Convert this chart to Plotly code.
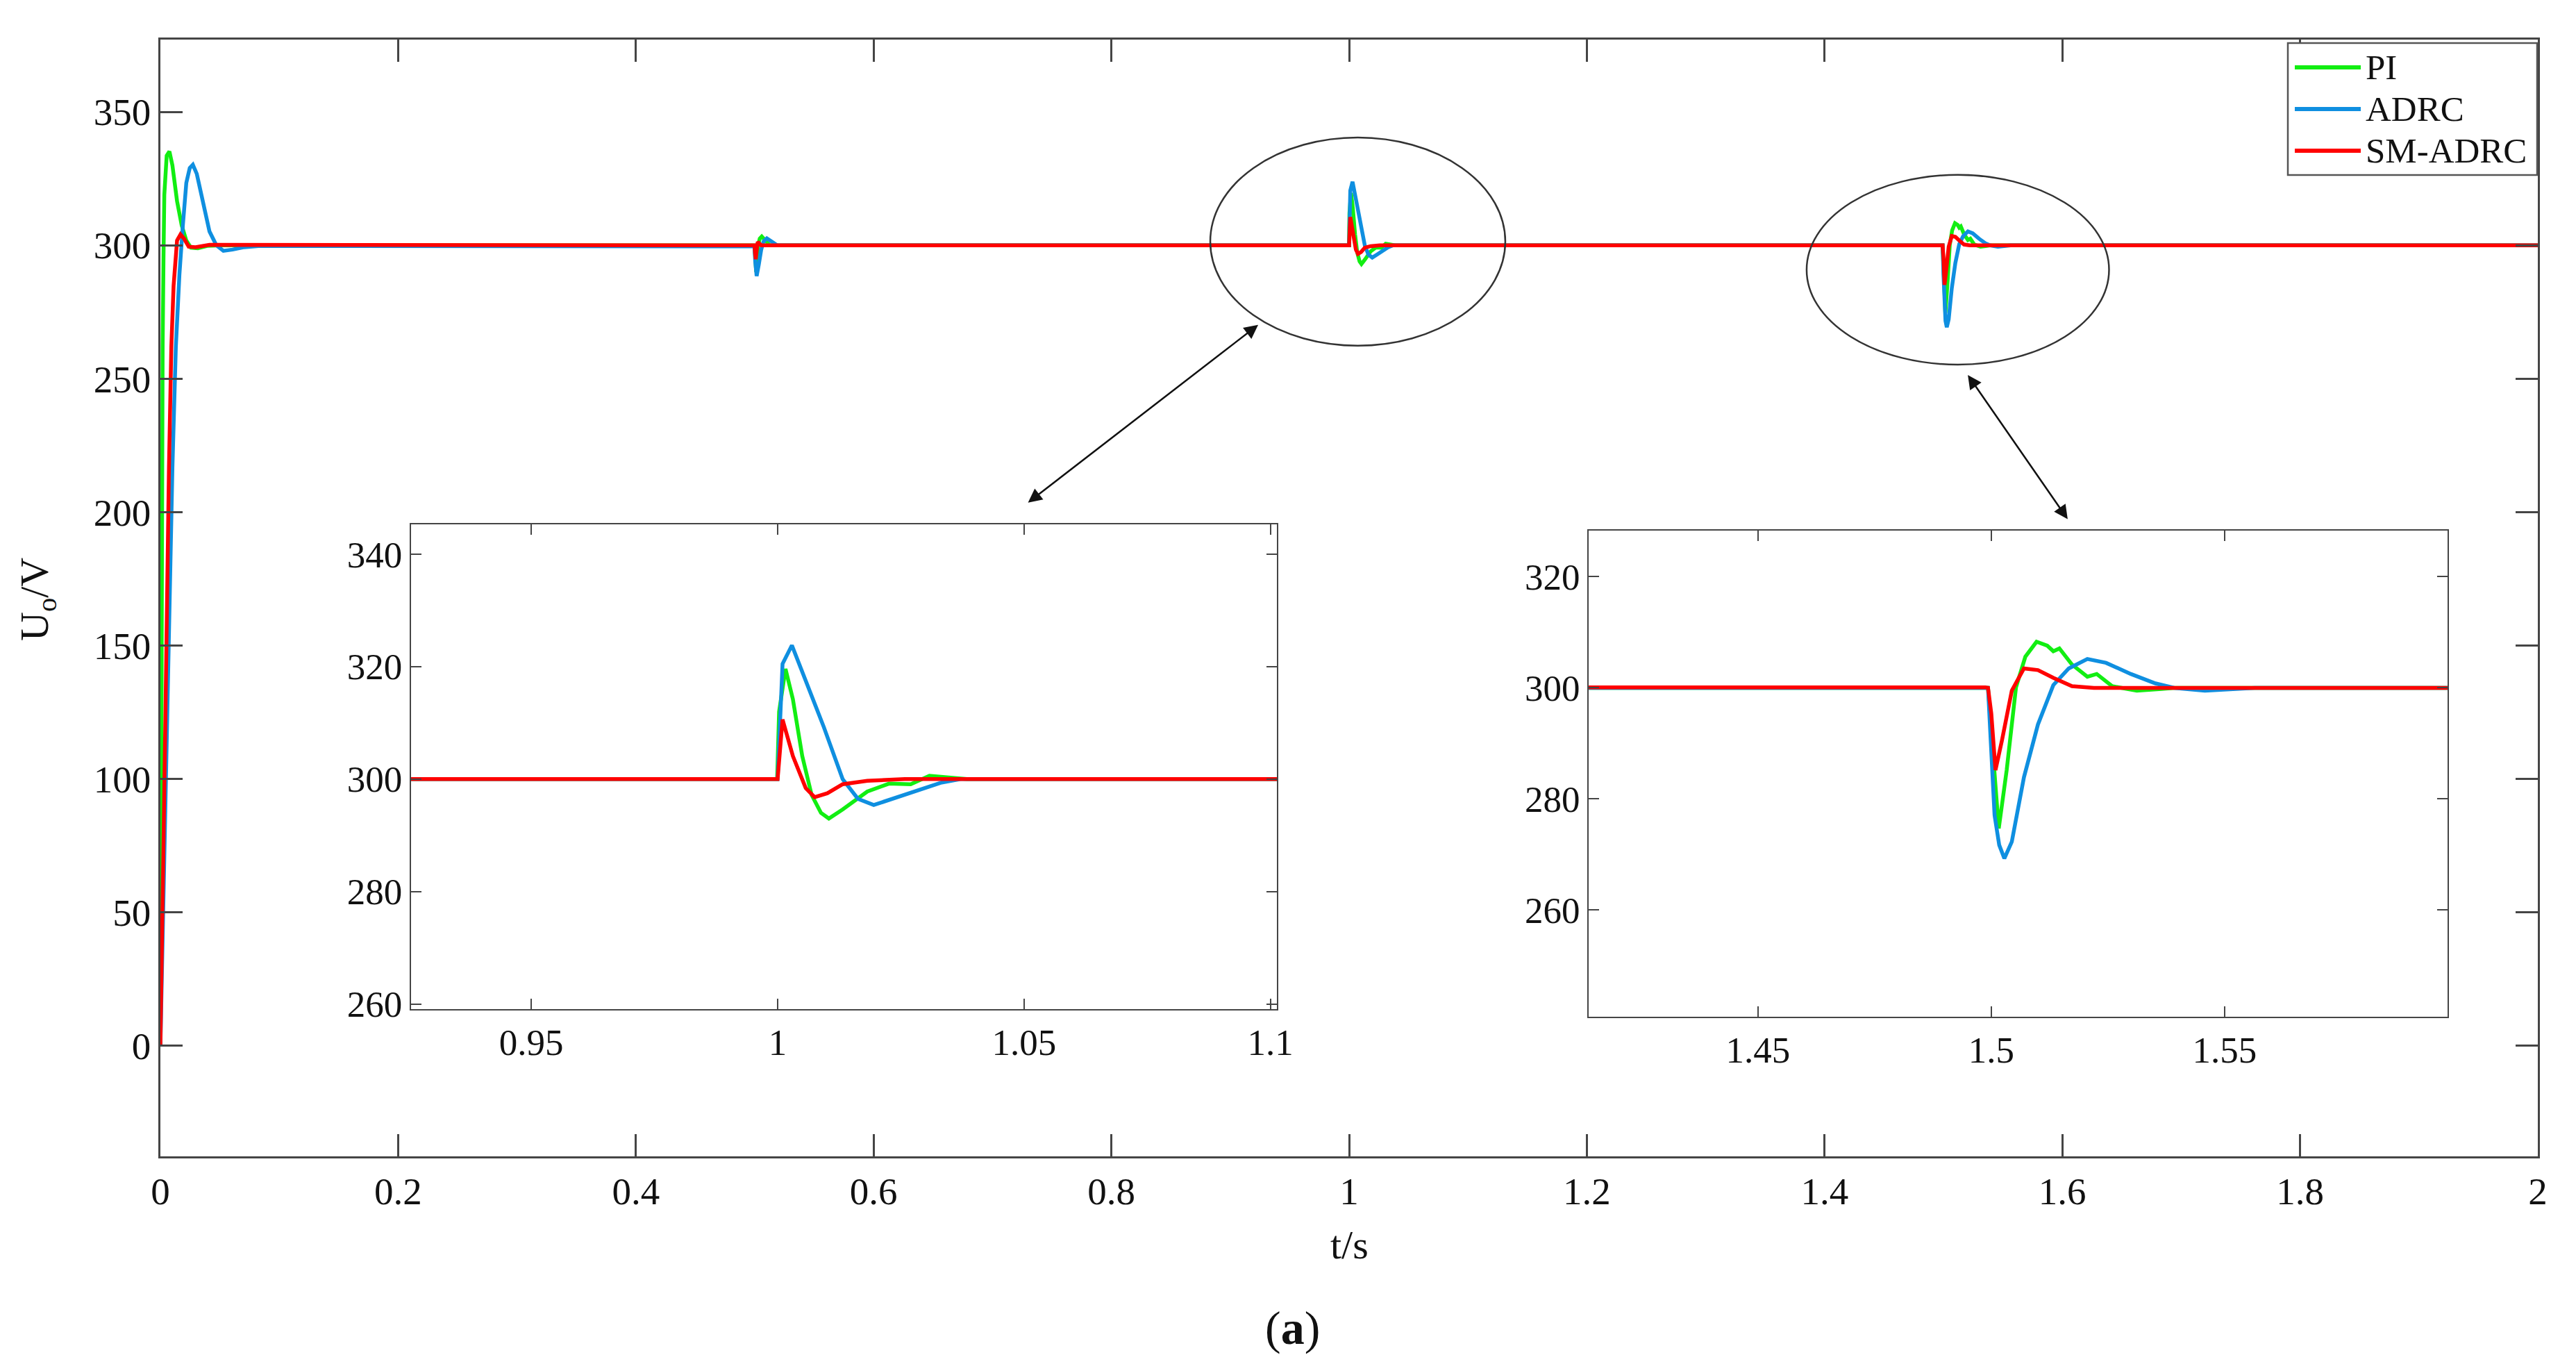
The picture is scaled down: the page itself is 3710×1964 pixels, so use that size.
import plotly.graph_objects as go

# ---------------- data ----------------
series_names = ["PI", "ADRC", "SM-ADRC"]
series_colors = ["#12EE12", "#0F8FE0", "#FF0000"]

pi_t = [0, 0.0004, 0.0008, 0.0013, 0.0019, 0.0026, 0.0033, 0.0053, 0.0076, 0.0101,
        0.014, 0.0179, 0.0218, 0.0257, 0.0315, 0.0393, 0.05,
        0.4998, 0.5004, 0.5012, 0.502, 0.5029, 0.5042, 0.5059, 0.509, 0.5127,
        0.9999, 1.0003, 1.0016, 1.0031, 1.005, 1.0069, 1.0088, 1.0104, 1.0132, 1.0182,
        1.0226, 1.027, 1.0308, 1.0352, 1.0384,
        1.4993, 1.5004, 1.5016, 1.5033, 1.5053, 1.5073, 1.5097, 1.512, 1.5133, 1.5146,
        1.5173, 1.5206, 1.5226, 1.5259, 1.5312, 1.5365, 1.5392, 2.0]
pi_v = [0, 60, 148, 205, 262, 295, 319, 333.6, 335.2, 330,
        316.6, 307.5, 301.8, 299.1, 298.9, 299.8, 300,
        300, 295, 290, 294.5, 300, 302.5, 303.3, 301.8, 300,
        300, 312, 319.6, 314.2, 304.1, 297.2, 294.0, 293.0, 294.6, 297.8,
        299.2, 299.1, 300.6, 300.3, 300,
        300, 287.9, 274.7, 285.2, 300.1, 305.6, 308.3, 307.6, 306.6, 307.1,
        304.2, 302.0, 302.5, 300.3, 299.5, 299.8, 300, 300]

adrc_t = [0, 0.001, 0.0033, 0.0062, 0.0101, 0.013, 0.016, 0.0189, 0.0218, 0.0247,
          0.0273, 0.0306, 0.0354, 0.0413, 0.0471, 0.053, 0.0607, 0.0705, 0.0841,
          0.4998, 0.5004, 0.5016, 0.5035, 0.5054, 0.5075, 0.5102, 0.514, 0.5189,
          1.0, 1.001, 1.0029, 1.0057, 1.0094, 1.0132, 1.0163, 1.0195, 1.0233, 1.0283,
          1.0333, 1.0371,
          1.4993, 1.5, 1.5007, 1.5017, 1.5028, 1.5044, 1.507, 1.51, 1.5133, 1.5166,
          1.5206, 1.5246, 1.5299, 1.5352, 1.5392, 1.5458, 1.5525, 1.5565, 2.0]
adrc_v = [0, 22, 57.5, 125.7, 216.6, 262, 289, 307.5, 323.4, 329,
          330.2, 326.8, 316.6, 305.2, 300, 297.95, 298.4, 299.3, 299.8,
          299.6, 294, 288.5, 293, 298.3, 301.5, 302.6, 301.5, 300,
          300, 320.5, 323.8, 317.4, 309.2, 300, 296.5, 295.4, 296.5, 298.1,
          299.4, 300,
          300, 289.3, 277.1, 271.7, 269.3, 272.3, 283.9, 293.4, 300.5, 303.5,
          305.2, 304.5, 302.5, 300.8, 300, 299.5, 299.8, 300, 300]

sm_t = [0, 0.0023, 0.0043, 0.0072, 0.0092, 0.0111, 0.014, 0.0169, 0.0199, 0.0238,
        0.0296, 0.0413,
        0.4998, 0.5003, 0.5008, 0.5016, 0.5025, 0.5054,
        1.0, 1.001, 1.0031, 1.0057, 1.0075, 1.0101, 1.0132, 1.0182, 1.0258,
        1.4987, 1.4993, 1.5, 1.5009, 1.5023, 1.5044, 1.507, 1.51, 1.5133, 1.5173,
        1.522, 2.0]
sm_v = [0, 57.5, 125.7, 216.6, 262, 284.8, 301.8, 304.1, 302.5, 299.5,
        299.3, 300.2,
        300, 297, 294.8, 298, 301.3, 300,
        300, 310.6, 304.1, 298.4, 296.8, 297.5, 299.1, 299.7, 300,
        300.1, 300, 295.4, 285.2, 290.6, 299.5, 303.5, 303.2, 301.8, 300.3,
        300, 300]

main_xticks = [0, 0.2, 0.4, 0.6, 0.8, 1, 1.2, 1.4, 1.6, 1.8, 2]
main_xlabels = ["0", "0.2", "0.4", "0.6", "0.8", "1", "1.2", "1.4", "1.6", "1.8", "2"]
main_yticks = [0, 50, 100, 150, 200, 250, 300, 350]
inset1_xticks = [0.95, 1, 1.05, 1.1]
inset1_xlabels = ["0.95", "1", "1.05", "1.1"]
inset1_yticks = [260, 280, 300, 320, 340]
inset2_xticks = [1.45, 1.5, 1.55]
inset2_xlabels = ["1.45", "1.5", "1.55"]
inset2_yticks = [260, 280, 300, 320]

# zoom ellipses (main axis units) and linking arrows (tail, head)
ellipses = [(0.8832, 262.4, 1.1314, 340.4), (1.3849, 255.3, 1.6393, 326.4)]
arrows = [((0.729, 203.3), (0.9235, 270.2)), ((1.6051, 197.0), (1.5205, 251.4))]

# ---------------- figure ----------------
W, H = 3710, 1964
L, R, T, B = 231, 55, 57, 299
FONT = "Liberation Serif, Times New Roman, serif"
AX = "#454545"

series = [(pi_t, pi_v), (adrc_t, adrc_v), (sm_t, sm_v)]
fig = go.Figure()
for ax_id in ["", "2", "3"]:
    for (tt, vv), name, col in zip(series, series_names, series_colors):
        fig.add_trace(go.Scatter(x=tt, y=vv, mode="lines", name=name,
                                 line=dict(color=col, width=5.5),
                                 xaxis="x" + ax_id, yaxis="y" + ax_id,
                                 showlegend=False, hoverinfo="skip"))

def axis(**kw):
    d = dict(showline=True, linecolor=AX, linewidth=2.5, mirror="ticks",
             ticks="inside", tickcolor=AX, tickwidth=2.5, showgrid=False,
             zeroline=False, tickfont=dict(family=FONT, size=55, color="#111"))
    d.update(kw)
    return d

inset_font = dict(family=FONT, size=53, color="#111")
fig.update_layout(
    width=W, height=H, margin=dict(l=L, r=R, t=T, b=B),
    paper_bgcolor="white", plot_bgcolor="white",
    xaxis=axis(range=[0, 2], tickvals=main_xticks, ticktext=main_xlabels,
               ticklen=32, domain=[0, 1]),
    yaxis=axis(range=[-41.4, 377.1], tickvals=main_yticks, ticklen=32, domain=[0, 1]),
    xaxis2=axis(range=[0.9256, 1.1013], tickvals=inset1_xticks, ticktext=inset1_xlabels,
                ticklen=15, domain=[0.1054, 0.4696], anchor="y2", linewidth=2, tickwidth=2,
                tickfont=inset_font),
    yaxis2=axis(range=[259.1, 345.3], tickvals=inset1_yticks, ticklen=15,
                domain=[0.1318, 0.5659], anchor="x2", linewidth=2, tickwidth=2,
                tickfont=inset_font),
    xaxis3=axis(range=[1.4137, 1.5978], tickvals=inset2_xticks, ticktext=inset2_xlabels,
                ticklen=15, domain=[0.6008, 0.9620], anchor="y3", linewidth=2, tickwidth=2,
                tickfont=inset_font),
    yaxis3=axis(range=[240.8, 328.3], tickvals=inset2_yticks, ticklen=15,
                domain=[0.1250, 0.5603], anchor="x3", linewidth=2, tickwidth=2,
                tickfont=inset_font),
    showlegend=False,
)

shapes = []
for (x0, y0, x1, y1) in ellipses:
    shapes.append(dict(type="circle", xref="x", yref="y", x0=x0, y0=y0, x1=x1, y1=y1,
                       line=dict(color="#333333", width=2.5)))

annotations = []
for (tail, head) in arrows:
    annotations.append(dict(x=head[0], y=head[1], ax=tail[0], ay=tail[1],
                            xref="x", yref="y", axref="x", ayref="y", text="",
                            showarrow=True, arrowhead=2, arrowside="end+start",
                            arrowsize=1.6, arrowwidth=2.5, arrowcolor="#111111"))

# legend box (drawn in paper space)
def px_x(px):
    return (px - L) / (W - L - R)

def px_y(py):
    return (H - B - py) / (H - T - B)

shapes.append(dict(type="rect", xref="paper", yref="paper",
                   x0=px_x(3295), x1=px_x(3654), y0=px_y(252), y1=px_y(62),
                   fillcolor="white", line=dict(color="#555555", width=2.5), layer="above"))
for i, (name, col) in enumerate(zip(series_names, series_colors)):
    yy = px_y(97 + 60 * i)
    shapes.append(dict(type="line", xref="paper", yref="paper",
                       x0=px_x(3305), x1=px_x(3400), y0=yy, y1=yy,
                       line=dict(color=col, width=6), layer="above"))
    annotations.append(dict(x=px_x(3405), y=yy, xref="paper", yref="paper", text=name,
                            showarrow=False, xanchor="left", yanchor="middle",
                            font=dict(family=FONT, size=51, color="#111")))

annotations.append(dict(x=px_x(53), y=px_y(863), xref="paper", yref="paper",
                        text="U<sub>o</sub>/V", textangle=-90, showarrow=False,
                        xanchor="center", yanchor="middle",
                        font=dict(family=FONT, size=58, color="#111")))
annotations.append(dict(x=px_x(1943), y=px_y(1792), xref="paper", yref="paper",
                        text="t/s", showarrow=False, xanchor="center", yanchor="middle",
                        font=dict(family=FONT, size=58, color="#111")))
annotations.append(dict(x=px_x(1861), y=px_y(1912), xref="paper", yref="paper",
                        text="(<b>a</b>)", showarrow=False, xanchor="center", yanchor="middle",
                        font=dict(family=FONT, size=68, color="#111")))

fig.update_layout(shapes=shapes, annotations=annotations)

fig.write_html("out.html", config={"displayModeBar": False},
               post_script="document.body.style.margin='0';document.body.style.overflow='hidden';")
